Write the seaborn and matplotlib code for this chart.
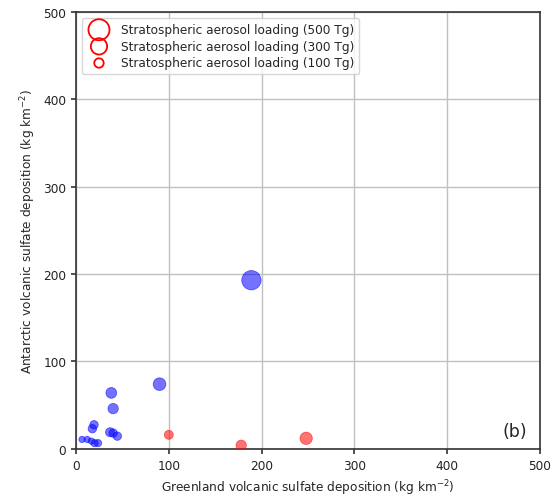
import matplotlib
matplotlib.use("Agg")
import matplotlib.pyplot as plt
import pandas as pd
import seaborn as sns

# Greenland / Antarctic deposition (kg km-2) and stratospheric loading (Tg)
blue_x = [189, 90, 38, 40, 19.4, 17.6, 36.6, 40, 44.5, 6.5, 12, 16.5, 20, 23.7]
blue_y = [193, 74, 64, 46, 27.5, 23, 19, 18, 14.5, 10.7, 10.7, 8.8, 6.5, 6.5]
blue_load = [420, 180, 130, 120, 80, 80, 90, 80, 80, 45, 45, 45, 60, 60]

red_x = [100, 178, 248]
red_y = [16, 4, 12]
red_load = [90, 120, 170]

legend_loads = [500, 300, 100]

k = 0.46  # marker area per Tg

df_blue = pd.DataFrame({"x": blue_x, "y": blue_y, "load": blue_load})
df_red = pd.DataFrame({"x": red_x, "y": red_y, "load": red_load})

sns.set_style("ticks")
plt.rcParams["font.family"] = ["DejaVu Sans"]

fig, ax = plt.subplots(figsize=(5.59, 5.02), dpi=100)
fig.subplots_adjust(left=0.136, right=0.966, top=0.974, bottom=0.104)

sns.scatterplot(data=df_blue, x="x", y="y", size="load", sizes=(0, 500 * k),
                size_norm=(0, 500), color="b", alpha=0.55, linewidth=0.6,
                edgecolor="b", legend=False, ax=ax, zorder=3)
sns.scatterplot(data=df_red, x="x", y="y", size="load", sizes=(0, 500 * k),
                size_norm=(0, 500), color="r", alpha=0.55, linewidth=0.6,
                edgecolor="r", legend=False, ax=ax, zorder=3)

for L in legend_loads:
    ax.scatter([], [], s=L * k, facecolors="none", edgecolors="r", linewidths=1.3,
               label=f"Stratospheric aerosol loading ({L} Tg)")

ax.legend(loc="upper left", fontsize=8.7, frameon=True, framealpha=0.8,
          borderpad=0.4, labelspacing=0.3, handletextpad=0.8)

ax.set_xlim(0, 500)
ax.set_ylim(0, 500)
ax.set_xticks(range(0, 501, 100))
ax.set_yticks(range(0, 501, 100))
ax.grid(True, color="#c0c0c0", linewidth=1)
ax.set_axisbelow(True)
ax.tick_params(labelsize=8.7, length=3.5, width=1.2, color="#333333", labelcolor="#222222")
for s in ax.spines.values():
    s.set_linewidth(1.2)
    s.set_color("#333333")

ax.set_xlabel("Greenland volcanic sulfate deposition (kg km$^{-2}$)", fontsize=8.7)
ax.set_ylabel("Antarctic volcanic sulfate deposition (kg km$^{-2}$)", fontsize=8.7)
ax.text(486, 20, "(b)", fontsize=12.5, ha="right", va="center")

fig.savefig("out.png", dpi=100)
